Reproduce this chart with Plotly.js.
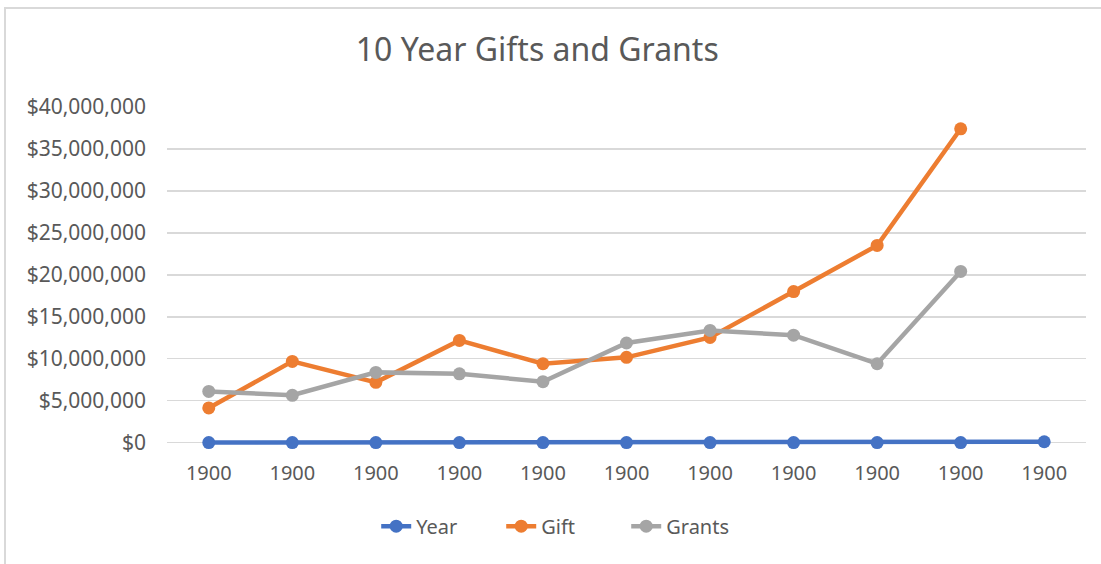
<!DOCTYPE html>
<html>
<head>
<meta charset="utf-8">
<script src="https://cdn.plot.ly/plotly-3.0.1.min.js"></script>
<style>
  html, body { margin: 0; padding: 0; background: #fff; }
  #wrap { position: relative; width: 1101px; height: 564px; }
  #chart { width: 1101px; height: 564px; }
  #frame { position: absolute; left: 4px; top: 7px; right: 0; bottom: 0;
           border-left: 2px solid #d9d9d9; border-top: 2px solid #d9d9d9; pointer-events: none; }
</style>
</head>
<body>
<div id="wrap"><div id="chart"></div><div id="frame"></div></div>
<script>
const categories = [0, 1, 2, 3, 4, 5, 6, 7, 8, 9, 10];
const tickLabels = ["1900","1900","1900","1900","1900","1900","1900","1900","1900","1900","1900"];
const yearValues = [2009, 2010, 2011, 2012, 2013, 2014, 2015, 2016, 2017, 2018, 100000];
const giftValues = [4130000, 9680000, 7180000, 12180000, 9400000, 10160000, 12540000, 18000000, 23500000, 37400000];
const grantsValues = [6100000, 5640000, 8370000, 8200000, 7260000, 11870000, 13370000, 12800000, 9400000, 20400000];
const yTickVals = [0, 5000000, 10000000, 15000000, 20000000, 25000000, 30000000, 35000000, 40000000];
const yTickText = ["$0","$5,000,000","$10,000,000","$15,000,000","$20,000,000","$25,000,000","$30,000,000","$35,000,000","$40,000,000"];

const FONT = "Noto Sans, Open Sans, sans-serif";
function series(name, y, color) {
  return {
    type: 'scatter', mode: 'lines+markers', name: name,
    x: categories.slice(0, y.length), y: y,
    line: { color: color, width: 4.5 },
    marker: { color: color, size: 13 },
    cliponaxis: false,
    hoverinfo: 'skip'
  };
}
const data = [
  series('Year', yearValues, '#4472c4'),
  series('Gift', giftValues, '#ed7d31'),
  series('Grants', grantsValues, '#a5a5a5')
];
const layout = {
  width: 1101, height: 564,
  margin: { l: 167, r: 15, t: 107, b: 112.6 },
  paper_bgcolor: '#ffffff', plot_bgcolor: '#ffffff',
  font: { family: FONT, color: '#595959', size: 20 },
  title: { text: '10 Year Gifts and Grants', font: { family: FONT, size: 32, color: '#595959' },
           x: 0.488, xanchor: 'center', xref: 'container', y: 0.912, yanchor: 'middle', yref: 'container' },
  xaxis: {
    range: [-0.5, 10.5], tickmode: 'array', tickvals: categories, ticktext: tickLabels,
    showgrid: false, zeroline: false, showline: false, ticks: '',
    tickfont: { family: FONT, size: 20, color: '#595959' }, ticklabelstandoff: 8
  },
  yaxis: {
    range: [-1000000, 40000000], tickmode: 'array', tickvals: yTickVals, ticktext: yTickText,
    showgrid: true, gridcolor: '#d9d9d9', gridwidth: 1.5, zeroline: false, showline: false, ticks: '',
    tickfont: { family: FONT, size: 21, color: '#595959' }, ticklabelstandoff: 20
  },
  showlegend: true,
  legend: { orientation: 'h', x: 0.512, xanchor: 'center', xref: 'container', y: 0.067, yref: 'container', yanchor: 'middle',
            font: { family: FONT, size: 20, color: '#595959' }, traceorder: 'normal',
            entrywidth: 80, entrywidthmode: 'pixels' }
};
Plotly.newPlot('chart', data, layout, { displayModeBar: false, staticPlot: true });
</script>
</body>
</html>
